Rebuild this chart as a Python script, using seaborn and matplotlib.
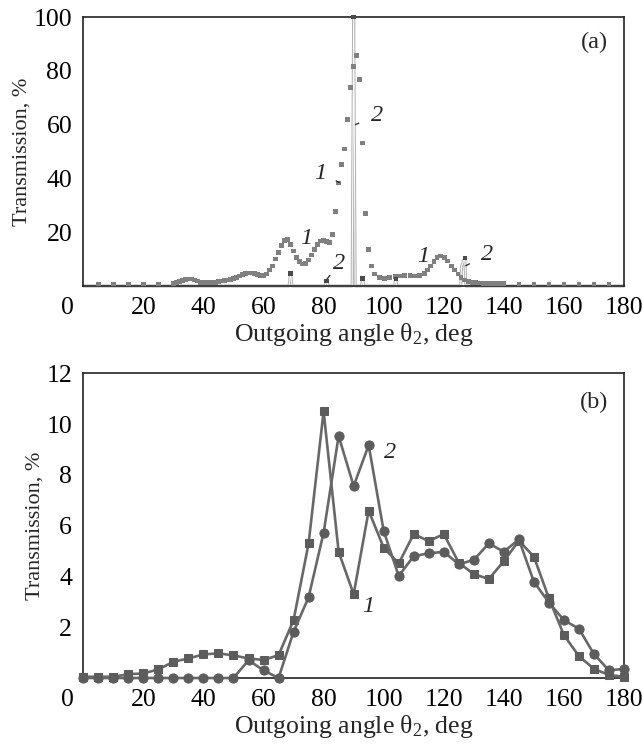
import matplotlib
matplotlib.use("Agg")
import matplotlib.pyplot as plt
import seaborn as sns
import pandas as pd
from matplotlib.transforms import ScaledTranslation

# ---------------- data: panel (a) ----------------
a1_x = [5, 10, 15, 20, 25,
        30, 31, 32, 33, 34, 35, 36, 37, 38, 39,
        40, 41, 42, 43, 44, 45, 46, 47, 48, 49,
        50, 51, 52, 53, 54, 55, 56, 57, 58, 59,
        60, 61, 62, 63, 64, 65, 66, 67, 68, 69,
        70, 71, 72, 73, 74, 75, 76, 77, 78, 79,
        80, 81, 82, 83, 84, 85, 86, 87, 88, 89,
        90, 91, 92, 93, 94, 95, 96, 97,
        98.7, 100.3, 102, 103.7, 105.3, 107, 108.7, 110.3, 112, 113.5,
        114.5, 115.6, 116.7, 117.8, 119, 120.2, 121.3, 122.5, 123.6, 124.7,
        125.8, 127, 128.2, 129.4, 130.6, 131.8, 133, 134.2, 135.4, 136.6,
        137.8, 139, 140,
        145, 150, 155, 160, 165, 170, 175]
a1_y = [0.8, 0.8, 0.8, 0.8, 0.8,
        1.0, 1.3, 1.6, 2.0, 2.4, 2.6, 2.6, 2.3, 1.8, 1.4,
        1.2, 1.2, 1.2, 1.3, 1.4, 1.6, 1.8, 2.0, 2.2, 2.5,
        2.8, 3.2, 3.7, 4.2, 4.6, 4.8, 4.8, 4.6, 4.2, 3.9,
        3.8, 4.5, 6.0, 7.5, 10.0, 12.5, 15.0, 17.0, 17.2, 15.5,
        13.0, 10.5, 9.0, 8.2, 8.4, 9.6, 11.5, 13.5, 15.5, 16.8,
        17.0, 16.5, 16.2, 19.2, 27.8, 38.3, 45.2, 51.0, 61.9, 73.7,
        81.7, 85.8, 76.7, 53.1, 26.9, 13.6, 7.4, 4.4,
        3.2, 2.7, 3.1, 3.5, 3.7, 3.9, 3.8, 3.7, 3.9, 4.7,
        5.9, 7.5, 9.0, 10.6, 11.1, 10.6, 9.3, 7.5, 5.9, 4.4,
        3.2, 2.2, 1.7, 1.4, 1.2, 1.1, 1.0, 1.0, 0.9, 0.9,
        0.9, 0.9, 0.9,
        0.8, 0.8, 0.8, 0.8, 0.8, 0.8, 0.8]

a2_x = [0, 68.5, 69, 69.5, 80.5, 81, 81.5, 89.5, 90, 90.5, 92.6, 93, 93.4,
        103.6, 104, 104.4, 125.6, 126, 127, 127.4, 180]
a2_y = [0, 0, 4.7, 0, 0, 1.8, 0, 0, 100, 0, 0, 2.8, 0,
        0, 2.6, 0, 0, 7.5, 10.5, 0, 0]
a2_peak_x = [69, 81, 90, 93, 104, 127]
a2_peak_y = [4.7, 1.8, 100, 2.8, 2.6, 10.5]

# ---------------- data: panel (b) ----------------
b_x = [0, 5, 10, 15, 20, 25, 30, 35, 40, 45, 50, 55, 60, 65, 70, 75, 80, 85, 90,
       95, 100, 105, 110, 115, 120, 125, 130, 135, 140, 145, 150, 155, 160, 165,
       170, 175, 180]
b1_y = [0.05, 0.05, 0.05, 0.15, 0.18, 0.34, 0.64, 0.77, 0.93, 0.97, 0.89, 0.77,
        0.71, 0.9, 2.28, 5.3, 10.5, 4.97, 3.3, 6.59, 5.13, 4.51, 5.67, 5.39,
        5.67, 4.54, 4.09, 3.9, 4.6, 5.41, 4.78, 3.14, 1.69, 0.86, 0.36, 0.12, 0.05]
b2_y = [0, 0, 0, 0, 0, 0, 0, 0, 0, 0, 0, 0.7, 0.3, 0.0, 1.82, 3.18, 5.72, 9.53,
        7.56, 9.17, 5.79, 4.02, 4.8, 4.91, 4.97, 4.48, 4.65, 5.3, 4.97, 5.46,
        3.79, 2.97, 2.28, 1.94, 0.94, 0.3, 0.36]

x_ticks = [0, 20, 40, 60, 80, 100, 120, 140, 160, 180]
a_yticks = [20, 40, 60, 80, 100]
b_yticks = [2, 4, 6, 8, 10, 12]

# ---------------- style ----------------
sns.set_theme(style="white")
plt.rcParams["font.family"] = ["Liberation Serif", "DejaVu Serif"]
plt.rcParams["mathtext.fontset"] = "custom"
plt.rcParams["mathtext.rm"] = "Liberation Serif"
plt.rcParams["mathtext.it"] = "Liberation Serif:italic"
FS_T = 18.5   # tick labels
FS_X = 18.5   # x label
FS_Y = 16.0   # y label
FS_A = 17.5   # annotations

fig = plt.figure(figsize=(6.43, 7.45), dpi=100)
W, H = 643, 745
ax1 = fig.add_axes([83.3 / W, 1 - 286 / H, (624 - 83.3) / W, (286 - 17) / H])
ax2 = fig.add_axes([83.3 / W, 1 - 678 / H, (624 - 83.3) / W, (678 - 373.3) / H])

df_a1 = pd.DataFrame({"x": a1_x, "y": a1_y})
df_a2 = pd.DataFrame({"x": a2_x, "y": a2_y})
df_a2p = pd.DataFrame({"x": a2_peak_x, "y": a2_peak_y})
df_b = pd.DataFrame({"x": b_x, "b1": b1_y, "b2": b2_y})

# panel (a)
sns.lineplot(data=df_a2, x="x", y="y", ax=ax1, color="#b3b3b3", lw=2.2,
             sort=False, estimator=None, clip_on=False, zorder=2)
sns.lineplot(data=df_a2, x="x", y="y", ax=ax1, color="white", lw=0.7,
             sort=False, estimator=None, clip_on=False, zorder=2.1)
sns.scatterplot(data=df_a1, x="x", y="y", ax=ax1, marker="s", s=11,
                color="#808080", edgecolor="none", linewidth=0, zorder=3,
                clip_on=False)
sns.scatterplot(data=df_a2p, x="x", y="y", ax=ax1, marker="s", s=10,
                color="#4a4a4a", edgecolor="none", linewidth=0, zorder=3.1,
                clip_on=False)

# panel (b)
lc = "#686868"
mc = "#5c5c5c"
sns.lineplot(data=df_b, x="x", y="b1", ax=ax2, color=lc, lw=1.9,
             marker="s", markersize=6.4, markerfacecolor=mc,
             markeredgecolor=mc, clip_on=False, zorder=3)
sns.lineplot(data=df_b, x="x", y="b2", ax=ax2, color=lc, lw=1.9,
             marker="o", markersize=6.6, markerfacecolor=mc,
             markeredgecolor=mc, clip_on=False, zorder=3)

for ax, yt, ylim in ((ax1, a_yticks, (0, 100)), (ax2, b_yticks, (0, 12))):
    ax.set_xlim(0, 180)
    ax.set_ylim(*ylim)
    ax.set_xticks(x_ticks)
    ax.set_xticklabels([str(v) for v in x_ticks])
    ax.set_yticks(yt)
    ax.set_yticklabels([str(v) for v in yt])
    ax.tick_params(axis="both", direction="in", length=7, width=1.0,
                   colors="#222222", labelsize=FS_T, labelcolor="black")
    ax.tick_params(axis="x", pad=8)
    ax.tick_params(axis="y", pad=8)
    for sp in ax.spines.values():
        sp.set_visible(True)
        sp.set_color("#222222")
        sp.set_linewidth(1.2)
    ax.set_xlabel(r"Outgoing angle θ$_2$, deg", fontsize=FS_X, labelpad=1)
    ax.set_ylabel("Transmission, %", fontsize=FS_Y, labelpad=1.5)
    ax.grid(False)
    # shift the "0" label into the corner
    lab0 = ax.get_xticklabels()[0]
    lab0.set_transform(lab0.get_transform() +
                       ScaledTranslation(-16 / 100, 0, fig.dpi_scale_trans))

ax1.text(0.945, 0.905, "(a)", transform=ax1.transAxes, fontsize=FS_A,
         ha="center", va="center")
ax2.text(0.945, 0.905, "(b)", transform=ax2.transAxes, fontsize=FS_A,
         ha="center", va="center")

leader = dict(arrowstyle="-", color="#222222", lw=0.9, shrinkB=0)

# annotations panel (a) (data coordinates)
ax1.annotate("2", xy=(90.6, 60), xytext=(97.8, 63.5), fontsize=FS_A,
             style="italic", ha="center", va="center",
             arrowprops=dict(leader, shrinkA=7))
ax1.annotate("1", xy=(85.2, 38.5), xytext=(79.0, 42.0), fontsize=FS_A,
             style="italic", ha="center", va="center",
             arrowprops=dict(leader, shrinkA=5))
ax1.text(74.2, 17.5, "1", fontsize=FS_A, style="italic", ha="center", va="center")
ax1.annotate("2", xy=(80.4, 1.5), xytext=(85.2, 8.5), fontsize=FS_A,
             style="italic", ha="center", va="center",
             arrowprops=dict(leader, shrinkA=7))
ax1.text(113.2, 10.8, "1", fontsize=FS_A, style="italic", ha="center", va="center")
ax1.annotate("2", xy=(127.3, 7.5), xytext=(134.5, 11.8), fontsize=FS_A,
             style="italic", ha="center", va="center",
             arrowprops=dict(leader, shrinkA=7))

# annotations panel (b)
ax2.text(102.2, 8.9, "2", fontsize=FS_A, style="italic", ha="center", va="center")
ax2.text(94.7, 2.8, "1", fontsize=FS_A, style="italic", ha="center", va="center")

fig.savefig("out.png", dpi=100, facecolor="white")
